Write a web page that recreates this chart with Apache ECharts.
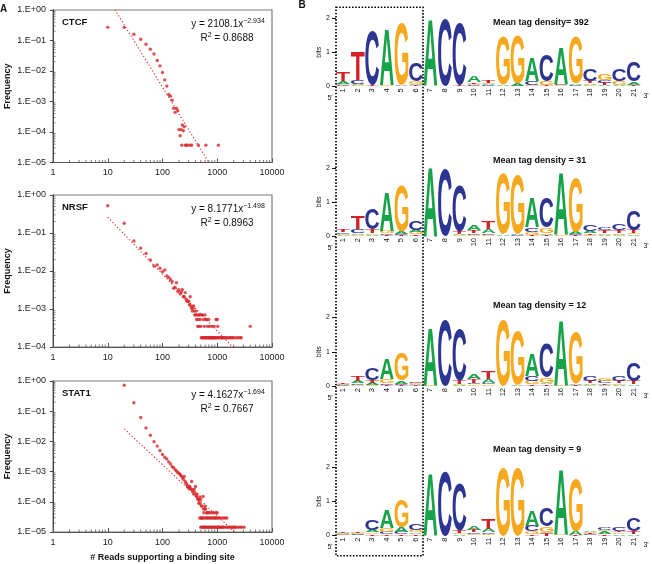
<!DOCTYPE html>
<html><head><meta charset="utf-8">
<script src="https://cdn.jsdelivr.net/npm/echarts@6.0.0/dist/echarts.min.js"></script>
<style>html,body{margin:0;padding:0;background:#fff}#c{width:652px;height:564px}</style>
</head><body><div id="c"></div>
<script>
// ---------------- Panel A data ----------------
const ctcfPoints = [[10,0.27],[20,0.27],[30,0.16],[40,0.11],[50,0.075],[60,0.052],[70,0.036],[80,0.022],[90,0.0147],[100,0.0089],[110,0.0051],[120,0.0032],[130,0.0017],[140,0.0015],[150,0.0011],[160,0.0006],[170,0.00044],[180,0.0006],[190,0.0005],[200,0.00012],[210,0.000075],[220,0.00012],[230,0.00017],[240,0.00011],[250,0.00015]];
const ctcfRowX = [225,262,272,285,320,340,450,620,1050];
const ctcfRowY = 0.000037;
const ctcfTrend = [[10,2.45],[1100,0.0000027]];

const nrsfPoints = [[10,0.52],[20,0.18],[30,0.062],[40,0.040],[50,0.029],[60,0.0195],[70,0.0135],[80,0.0144],[90,0.0118],[100,0.0096],[110,0.0106],[120,0.0074],[130,0.0068],[140,0.0060],[150,0.0052],[160,0.0035],[170,0.0037],[180,0.0049],[190,0.0029],[200,0.0032],[210,0.0025],[220,0.0028],[230,0.0032],[240,0.0021],[250,0.0021],[260,0.0027],[270,0.0018],[280,0.0016],[290,0.0016],[300,0.0016],[310,0.0013],[320,0.0021],[330,0.0012],[340,0.00105],[350,0.00088],[360,0.00105],[370,0.0012],[380,0.00088],[390,0.0007],[400,0.0007],[410,0.00088],[420,0.00053],[430,0.0007],[440,0.00035],[450,0.00053],[460,0.0007],[470,0.00035],[480,0.0007],[490,0.00053],[500,0.00035],[520,0.0007],[540,0.0007],[560,0.00053],[580,0.00035],[600,0.0007],[620,0.00053],[640,0.00053],[660,0.00035],[700,0.00053],[720,0.00035],[800,0.00035],[880,0.00035],[950,0.00053],[1000,0.00053],[1020,0.00035],[4000,0.00035]];
const nrsfRowX = [510,530,550,570,590,610,630,650,680,710,730,750,770,790,820,850,870,900,930,960,990,1050,1100,1150,1200,1250,1300,1350,1400,1500,1600,1700,1800,1900,2000,2200,2400,2600,2750];
const nrsfRowY = 0.000175;
const nrsfTrend = [[10,0.26],[4000,0.000033]];

const stat1Points = [[20,0.72],[30,0.19],[40,0.062],[50,0.028],[60,0.016],[70,0.0098],[80,0.0070],[90,0.0050],[100,0.0037],[110,0.0030],[120,0.0026],[130,0.0021],[140,0.0018],[150,0.00146],[160,0.00135],[170,0.00115],[180,0.00105],[190,0.00093],[200,0.00088],[210,0.00080],[220,0.00072],[230,0.00065],[240,0.00056],[250,0.00069],[260,0.00047],[270,0.00041],[280,0.00036],[290,0.00032],[300,0.00028],[310,0.00033],[320,0.00030],[330,0.00026],[340,0.00047],[350,0.00025],[360,0.00022],[370,0.00018],[380,0.00026],[390,0.00020],[400,0.00032],[410,0.00016],[420,0.00015],[430,0.00018],[440,0.000125],[450,0.00012],[460,0.00009],[470,0.00011],[480,0.000145],[490,0.000087],[500,0.000123],[510,0.000072],[530,0.000072],[550,0.00015],[560,0.000058],[570,0.0000435],[590,0.000058],[600,0.000072],[615,0.000058],[640,0.0000435],[660,0.0000435],[700,0.0000435],[750,0.0000435],[820,0.0000435],[870,0.0000435],[950,0.0000435],[1000,0.0000435]];
const stat1Row2X = [480,505,520,540,580,620,650,680,720,760,800,850,900,930,980,1050,1100,1200,1300,1400,1500];
const stat1Row2Y = 0.000029;
const stat1Row1X = [500,525,545,565,585,605,630,660,690,720,750,780,810,840,880,920,960,1000,1050,1100,1150,1200,1250,1300,1400,1500,1600,1700,1800,1900,2000,2100,2200,2400,2600,2800,3100];
const stat1Row1Y = 0.0000145;
const stat1Trend = [[20,0.026],[3100,0.000005]];

const xTickValues = [1,10,100,1000,10000];
const minorSteps = [2,3,4,5,6,7,8,9];

// ---------------- Panel B data (bottom -> top per position) ----------------
const positions = ['1','2','3','4','5','6','7','8','9','10','11','12','13','14','15','16','17','18','19','20','21'];
const logo392 = [
 [['C',0.03],['G',0.05],['A',0.07],['T',0.28]],
 [['G',0.03],['A',0.04],['C',0.13],['T',0.85]],
 [['T',0.04],['C',1.6]],
 [['G',0.03],['A',1.65]],
 [['A',0.03],['G',1.8]],
 [['T',0.03],['A',0.05],['G',0.07],['C',0.55]],
 [['A',1.95]],
 [['C',1.98]],
 [['T',0.03],['C',1.82]],
 [['C',0.03],['G',0.04],['T',0.05],['A',0.18]],
 [['C',0.03],['A',0.04],['G',0.04],['T',0.06]],
 [['A',0.04],['G',1.45]],
 [['C',0.02],['A',0.06],['G',1.42]],
 [['G',0.05],['C',0.12],['A',0.7]],
 [['T',0.03],['G',0.12],['C',0.78]],
 [['G',0.04],['C',0.04],['A',1.07]],
 [['C',0.03],['A',0.05],['G',1.38]],
 [['G',0.04],['A',0.05],['T',0.07],['C',0.36]],
 [['A',0.04],['T',0.07],['C',0.07],['G',0.2]],
 [['A',0.04],['G',0.10],['C',0.36]],
 [['T',0.05],['A',0.09],['C',0.56]]
];
const logo31 = [
 [['A',0.03],['G',0.03],['C',0.05],['T',0.08]],
 [['G',0.04],['A',0.04],['C',0.12],['T',0.37]],
 [['A',0.04],['G',0.05],['T',0.1],['C',0.6]],
 [['T',0.03],['C',0.05],['G',0.07],['A',1.15]],
 [['T',0.03],['C',0.04],['A',0.07],['G',1.35]],
 [['T',0.05],['G',0.06],['A',0.07],['C',0.25]],
 [['A',2.0]],
 [['C',1.98]],
 [['G',0.03],['A',0.03],['T',0.08],['C',1.35]],
 [['G',0.04],['C',0.05],['T',0.08],['A',0.16]],
 [['G',0.04],['C',0.05],['A',0.12],['T',0.22]],
 [['A',0.05],['G',1.76]],
 [['C',0.02],['A',0.05],['G',1.74]],
 [['T',0.04],['G',0.08],['C',0.13],['A',0.87]],
 [['T',0.04],['A',0.04],['G',0.16],['C',0.88]],
 [['G',0.03],['A',1.83]],
 [['T',0.02],['C',0.03],['A',0.06],['G',1.6]],
 [['G',0.04],['T',0.05],['A',0.06],['C',0.18]],
 [['A',0.04],['G',0.05],['T',0.08],['C',0.09]],
 [['G',0.04],['A',0.05],['T',0.07],['C',0.2]],
 [['A',0.05],['G',0.03],['T',0.1],['C',0.59]]
];
const logo12 = [
 [['C',0.02],['A',0.02],['G',0.02],['T',0.02]],
 [['G',0.04],['C',0.05],['A',0.06],['T',0.13]],
 [['G',0.04],['A',0.06],['T',0.08],['C',0.33]],
 [['T',0.03],['C',0.05],['G',0.12],['A',0.6]],
 [['T',0.03],['C',0.04],['A',0.08],['G',0.8]],
 [['T',0.03],['A',0.03],['G',0.04],['C',0.05]],
 [['G',0.03],['A',1.66]],
 [['C',1.93]],
 [['A',0.03],['G',0.03],['T',0.1],['C',1.48]],
 [['G',0.05],['C',0.05],['T',0.1],['A',0.16]],
 [['G',0.05],['C',0.05],['A',0.1],['T',0.21]],
 [['G',1.93]],
 [['A',0.03],['G',1.56]],
 [['T',0.05],['G',0.1],['C',0.15],['A',0.65]],
 [['T',0.05],['A',0.05],['G',0.15],['C',1.0]],
 [['G',0.03],['A',1.88]],
 [['T',0.03],['A',0.05],['G',1.51]],
 [['G',0.04],['A',0.05],['T',0.06],['C',0.16]],
 [['A',0.03],['T',0.05],['C',0.06],['G',0.06]],
 [['A',0.04],['G',0.05],['T',0.06],['C',0.16]],
 [['A',0.05],['T',0.1],['C',0.53]]
];
const logo9 = [
 [['C',0.02],['G',0.03],['A',0.03],['T',0.03]],
 [['C',0.02],['A',0.02],['G',0.02],['T',0.03]],
 [['T',0.04],['G',0.05],['A',0.07],['C',0.3]],
 [['T',0.04],['C',0.06],['G',0.12],['A',0.52]],
 [['T',0.04],['C',0.07],['A',0.14],['G',0.8]],
 [['T',0.04],['A',0.05],['G',0.07],['C',0.2]],
 [['A',1.81]],
 [['C',1.89]],
 [['A',0.03],['G',0.04],['T',0.08],['C',1.37]],
 [['G',0.04],['C',0.05],['T',0.07],['A',0.1]],
 [['G',0.04],['C',0.05],['A',0.1],['T',0.3]],
 [['G',1.99]],
 [['G',1.99]],
 [['T',0.05],['G',0.07],['C',0.17],['A',0.45]],
 [['T',0.06],['A',0.05],['G',0.15],['C',0.52]],
 [['G',0.03],['A',1.88]],
 [['T',0.02],['A',0.1],['G',1.55]],
 [['C',0.03],['T',0.03],['G',0.03],['A',0.03]],
 [['T',0.05],['A',0.07],['G',0.05],['C',0.08]],
 [['A',0.04],['G',0.05],['T',0.04],['C',0.1]],
 [['A',0.05],['T',0.07],['C',0.37]]
];
const logoTitles = ['Mean tag density= 392','Mean tag density = 31','Mean tag density = 12','Mean tag density = 9'];

// ---------------- styling / layout ----------------
const FONT = '"Liberation Sans", Arial, Helvetica, sans-serif';
const RED = '#d7262a';
const LETTER_COLORS = {A:'#17a34a', C:'#2c3592', G:'#f6a81e', T:'#d42027'};
const LETTERS = 'ACGT';
const LETTER_FONT = 'bold 100px "Liberation Sans", Arial, sans-serif';

// measure glyph bounds relative to the 'middle' baseline used by zrender
const METRICS = {};
(function(){
  const ctx = document.createElement('canvas').getContext('2d');
  ctx.font = LETTER_FONT; ctx.textAlign = 'center'; ctx.textBaseline = 'middle';
  for (const L of LETTERS) {
    const m = ctx.measureText(L);
    METRICS[L] = {a:m.actualBoundingBoxAscent, d:m.actualBoundingBoxDescent, l:m.actualBoundingBoxLeft, r:m.actualBoundingBoxRight};
  }
})();

const scatterPanels = [
  {name:'CTCF', pts: ctcfPoints.concat(ctcfRowX.map(x=>[x,ctcfRowY])), trend: ctcfTrend, yMin:1e-5, top:10, height:152.5, coef:'2108.1', expo:'−2.934', r2:'0.8688'},
  {name:'NRSF', pts: nrsfPoints.concat(nrsfRowX.map(x=>[x,nrsfRowY])), trend: nrsfTrend, yMin:1e-4, top:195, height:152, coef:'8.1771', expo:'−1.498', r2:'0.8963'},
  {name:'STAT1', pts: stat1Points.concat(stat1Row2X.map(x=>[x,stat1Row2Y]), stat1Row1X.map(x=>[x,stat1Row1Y])), trend: stat1Trend, yMin:1e-5, top:381, height:151, coef:'4.1627', expo:'−1.694', r2:'0.7667'}
];
const logos = [
  {cols: logo392, top:18.3, height:68},
  {cols: logo31, top:167.8, height:68.2},
  {cols: logo12, top:317.5, height:68.5},
  {cols: logo9, top:467, height:68.5}
];
const logoTitleY = [22.5, 161, 306, 450];

function yLabel(v){
  const e = Math.round(Math.log10(v));
  const a = Math.abs(e);
  return '1.E' + (e >= 0 ? '+' : '−') + (a < 10 ? '0' : '') + a;
}

function minorTickData(yMin){
  const out = [];
  for (let d = 1; d < 10000; d *= 10) minorSteps.forEach(k => out.push([k*d, yMin, 0]));
  for (let d = yMin; d < 1; d *= 10) minorSteps.forEach(k => out.push([1, k*d, 1]));
  return out;
}
function renderMinor(params, api){
  const p = api.coord([api.value(0), api.value(1)]);
  const flag = api.value(2);
  const shape = flag === 0 ? {x1:p[0], y1:p[1], x2:p[0], y2:p[1]-2.5} : {x1:p[0], y1:p[1], x2:p[0]+2.5, y2:p[1]};
  return {type:'line', shape, style:{stroke:'#555', lineWidth:0.8}, silent:true};
}

function logoData(cols){
  const out = [];
  cols.forEach((stack, i) => {
    let acc = 0;
    stack.forEach(([L, h]) => { out.push([i, acc, acc + h, LETTERS.indexOf(L)]); acc += h; });
  });
  return out;
}
function renderLetter(params, api){
  const idx = api.value(0), y0 = api.value(1), y1 = api.value(2), code = api.value(3);
  const L = LETTERS[code];
  const pb = api.coord([idx, y0]), pt = api.coord([idx, y1]);
  const bw = api.size([1, 0])[0];
  const x0 = pb[0] - bw/2 + 0.35, x1 = pb[0] + bw/2 - 0.35;
  const h = pb[1] - pt[1];
  if (h < 0.3) return null;
  const m = METRICS[L];
  const sx = (x1 - x0) / (m.l + m.r), sy = h / (m.a + m.d);
  return {type:'text', x: x0 + sx*m.l, y: pt[1] + sy*m.a, scaleX: sx, scaleY: sy,
    style:{text:L, font:LETTER_FONT, fill:LETTER_COLORS[L], align:'center', verticalAlign:'middle'}, silent:true};
}

const grid = [], xAxis = [], yAxis = [], series = [], graphic = [];
scatterPanels.forEach((p, i) => {
  grid.push({left:53, top:p.top, width:219, height:p.height, show:true, borderColor:'#7d7d7d', borderWidth:1.2, backgroundColor:'transparent'});
  xAxis.push({type:'log', logBase:10, gridIndex:i, min:1, max:10000,
    axisLine:{show:true, lineStyle:{color:'#555', width:1}},
    axisTick:{show:true, inside:true, length:4, lineStyle:{color:'#555'}},
    axisLabel:{fontSize:9, color:'#222', margin:6, fontFamily:FONT, formatter: v => String(xTickValues.find(t => Math.abs(Math.log10(t) - Math.log10(v)) < 0.01) || Math.round(v))},
    splitLine:{show:false},
    name: i === 2 ? '# Reads supporting a binding site' : '', nameLocation:'middle', nameGap:21,
    nameTextStyle:{fontWeight:'bold', fontSize:9, color:'#111', fontFamily:FONT}});
  yAxis.push({type:'log', logBase:10, gridIndex:i, min:p.yMin, max:1,
    axisLine:{show:true, lineStyle:{color:'#444', width:1}},
    axisTick:{show:true, inside:false, length:3, lineStyle:{color:'#444'}},
    axisLabel:{fontSize:9, color:'#222', margin:7, fontFamily:FONT, formatter:yLabel},
    splitLine:{show:false},
    name:'Frequency', nameLocation:'middle', nameGap:41, nameRotate:90,
    nameTextStyle:{fontWeight:'bold', fontSize:9, color:'#111', fontFamily:FONT}});
  series.push({type:'custom', xAxisIndex:i, yAxisIndex:i, data:minorTickData(p.yMin), renderItem:renderMinor, silent:true, clip:false, z:1, encode:{x:0, y:1}});
  series.push({type:'line', xAxisIndex:i, yAxisIndex:i, data:p.trend, symbol:'none', showSymbol:false, silent:true, clip:true,
    lineStyle:{color:RED, width:1.1, type:[1.2, 2.2]}, z:2});
  series.push({type:'scatter', xAxisIndex:i, yAxisIndex:i, data:p.pts, symbol:'circle', symbolSize:3.4, silent:true,
    itemStyle:{color:RED}, z:3});
  graphic.push({type:'text', x:62, y:p.top + 12, z:50, style:{text:p.name, font:'bold 9.5px ' + FONT, fill:'#111', align:'left', verticalAlign:'middle'}});
  graphic.push({type:'text', x:228, y:p.top + 14.5, z:50, style:{text:'{n|y = ' + p.coef + 'x}{s|' + p.expo + '}', align:'center', verticalAlign:'middle',
    rich:{n:{fontSize:10, fontFamily:FONT, fill:'#111', lineHeight:13}, s:{fontSize:7, fontFamily:FONT, fill:'#111', verticalAlign:'top', lineHeight:8}}}});
  graphic.push({type:'text', x:227, y:p.top + 28, z:50, style:{text:'{n|R}{s|2}{n| = ' + p.r2 + '}', align:'center', verticalAlign:'middle',
    rich:{n:{fontSize:10, fontFamily:FONT, fill:'#111', lineHeight:13}, s:{fontSize:7, fontFamily:FONT, fill:'#111', verticalAlign:'top', lineHeight:8}}}});
});

logos.forEach((lg, k) => {
  const gi = 3 + k;
  grid.push({left:336, top:lg.top, width:305, height:lg.height});
  xAxis.push({type:'category', gridIndex:gi, data:positions, boundaryGap:true,
    axisLine:{show:false}, axisTick:{show:false},
    axisLabel:{rotate:90, fontSize:7.5, margin:2, interval:0, color:'#111', fontFamily:FONT},
    splitLine:{show:false}});
  yAxis.push({type:'value', gridIndex:gi, min:0, max:2, interval:1,
    axisLine:{show:false}, axisTick:{show:true, length:4, lineStyle:{color:'#111'}},
    axisLabel:{fontSize:7, margin:6, color:'#111', fontFamily:FONT},
    splitLine:{show:false},
    name:'bits', nameLocation:'middle', nameGap:13, nameTextStyle:{fontSize:7, color:'#111', fontFamily:FONT}});
  series.push({type:'custom', xAxisIndex:gi, yAxisIndex:gi, data:logoData(lg.cols), renderItem:renderLetter, silent:true, clip:false, encode:{x:0, y:[1,2]}, z:2});
  const zeroY = lg.top + lg.height;
  graphic.push({type:'text', x:493, y:logoTitleY[k], z:50, style:{text:logoTitles[k], font:'bold 9px ' + FONT, fill:'#111', align:'left', verticalAlign:'middle'}});
  graphic.push({type:'text', x:330, y:zeroY + 12, z:50, style:{text:"5'", font:'7px ' + FONT, fill:'#111', align:'center', verticalAlign:'middle'}});
  graphic.push({type:'text', x:646, y:zeroY + 10, z:50, style:{text:"3'", font:'7px ' + FONT, fill:'#111', align:'center', verticalAlign:'middle'}});
});

graphic.push({type:'text', x:3.5, y:9.5, z:50, style:{text:'A', font:'bold 10px ' + FONT, fill:'#111', align:'center', verticalAlign:'middle'}});
graphic.push({type:'text', x:302, y:5, z:50, style:{text:'B', font:'bold 10px ' + FONT, fill:'#111', align:'center', verticalAlign:'middle'}});
graphic.push({type:'rect', z:60, silent:true, shape:{x:336, y:7.3, width:87, height:548.5},
  style:{fill:'none', stroke:'#000', lineWidth:1.6, lineDash:[1.6, 1.6]}});

const chart = echarts.init(document.getElementById('c'), null, {renderer:'canvas'});
chart.setOption({animation:false, backgroundColor:'#fff', textStyle:{fontFamily:FONT}, grid, xAxis, yAxis, series, graphic});
</script></body></html>
